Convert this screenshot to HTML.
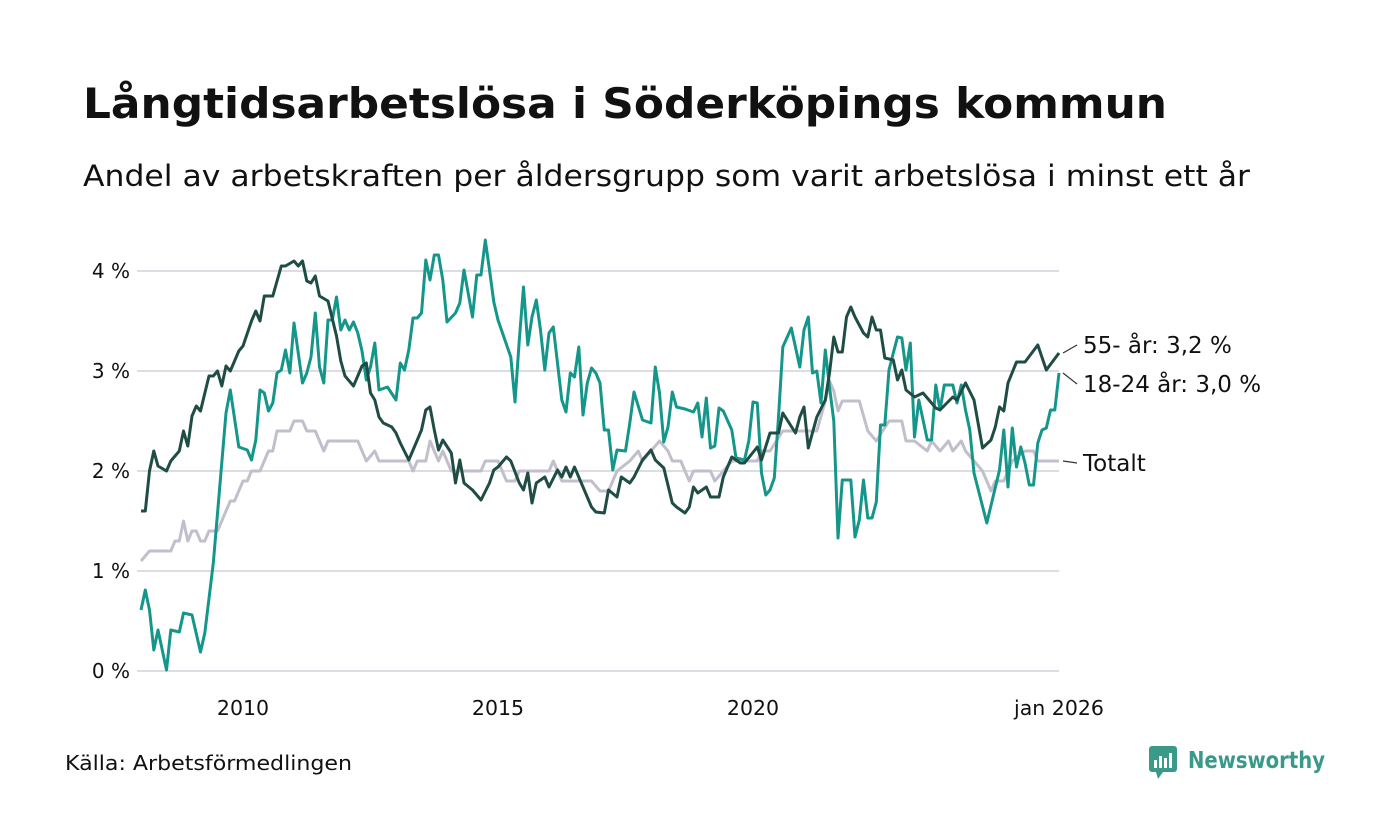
<!DOCTYPE html>
<html><head><meta charset="utf-8"><style>
html,body{margin:0;padding:0;background:#fff;width:1400px;height:840px;overflow:hidden}
body{font-family:"DejaVu Sans","Liberation Sans",sans-serif;color:#111}
</style></head><body>
<svg id="chart" width="1400" height="840" viewBox="0 0 1400 840" xmlns="http://www.w3.org/2000/svg">
<text x="83" y="118" font-size="42" font-weight="bold" fill="#111" textLength="1084" lengthAdjust="spacingAndGlyphs" font-family="DejaVu Sans, Liberation Sans, sans-serif">Långtidsarbetslösa i Söderköpings kommun</text>
<text x="83" y="186" font-size="29" fill="#111" textLength="1167" lengthAdjust="spacingAndGlyphs" font-family="DejaVu Sans, Liberation Sans, sans-serif">Andel av arbetskraften per åldersgrupp som varit arbetslösa i minst ett år</text>
<g id="grid"></g>
<g id="yticks"></g>
<g id="xticks"></g>
<g id="lines"></g>
<g id="labels"></g>
<text x="65" y="770" font-size="20" fill="#111" textLength="287" lengthAdjust="spacingAndGlyphs" font-family="DejaVu Sans, Liberation Sans, sans-serif">Källa: Arbetsförmedlingen</text>
<g>
<rect x="1149" y="746" width="28" height="26" rx="3" fill="#3a9a8a"/>
<polygon points="1156,772 1163,772 1158,779" fill="#3a9a8a"/>
<rect x="1154" y="760" width="3" height="8" fill="#fff"/><rect x="1159" y="756" width="3" height="12" fill="#fff"/><rect x="1164" y="758" width="3" height="10" fill="#fff"/><rect x="1169" y="753" width="3" height="15" fill="#fff"/>
<text x="1188" y="768" font-size="23" font-weight="bold" fill="#3a9a8a" textLength="137" lengthAdjust="spacingAndGlyphs" font-family="DejaVu Sans, Liberation Sans, sans-serif">Newsworthy</text>
</g>
</svg>
<script>
const yTicks=[0,1,2,3,4];
const yTickLabels=["0 %","1 %","2 %","3 %","4 %"];
const xTickMonths=[24,84,144,216];
const xTickLabels=["2010","2015","2020","jan 2026"];
const seniorMonths=[0,1,2,3,4,6,7,9,10,11,12,13,14,16,17,18,19,20,21,23,24,26,27,28,29,31,33,34,36,37,38,39,40,41,42,44,46,47,48,50,52,53,54,55,56,57,59,60,61,63,65,66,67,68,69,70,71,73,74,75,76,78,80,82,83,84,86,87,89,90,91,92,93,95,96,98,99,100,101,102,104,106,107,109,110,112,113,115,116,118,120,121,123,125,126,128,129,130,131,133,134,136,137,139,141,142,145,146,148,150,151,154,155,156,157,159,161,162,163,164,165,166,167,168,170,171,172,173,174,175,177,178,179,180,182,184,187,188,191,192,194,196,198,200,201,202,203,204,206,208,211,213,216];
const seniorValues=[1.6,1.6,2.0,2.2,2.05,2.0,2.1,2.2,2.4,2.25,2.55,2.65,2.6,2.95,2.95,3.0,2.85,3.05,3.0,3.2,3.25,3.5,3.6,3.5,3.75,3.75,4.05,4.05,4.1,4.05,4.1,3.9,3.88,3.95,3.75,3.7,3.35,3.1,2.95,2.85,3.05,3.08,2.78,2.71,2.54,2.48,2.44,2.38,2.28,2.11,2.31,2.41,2.61,2.64,2.41,2.21,2.31,2.18,1.88,2.11,1.88,1.81,1.71,1.88,2.01,2.04,2.14,2.1,1.88,1.81,1.98,1.68,1.88,1.94,1.84,2.01,1.94,2.04,1.94,2.04,1.84,1.64,1.59,1.58,1.81,1.74,1.94,1.88,1.94,2.11,2.21,2.11,2.03,1.68,1.64,1.58,1.64,1.84,1.78,1.84,1.74,1.74,1.94,2.14,2.08,2.08,2.24,2.11,2.38,2.38,2.58,2.38,2.54,2.64,2.23,2.54,2.71,2.98,3.34,3.19,3.19,3.54,3.64,3.54,3.38,3.34,3.54,3.41,3.41,3.13,3.11,2.91,3.01,2.81,2.74,2.78,2.63,2.61,2.74,2.71,2.88,2.71,2.23,2.31,2.44,2.64,2.6,2.88,3.09,3.09,3.26,3.01,3.18];
const youthMonths=[0,1,2,3,4,6,7,9,10,12,14,15,17,20,21,23,25,26,27,28,29,30,31,32,33,34,35,36,38,39,40,41,42,43,44,45,46,47,48,49,50,51,52,53,54,55,56,58,60,61,62,63,64,65,66,67,68,69,70,71,72,74,75,76,78,79,80,81,82,83,84,87,88,89,90,91,92,93,94,95,96,97,99,100,101,102,103,104,105,106,107,108,109,110,111,112,114,115,116,118,120,121,122,123,124,125,126,128,130,131,132,133,134,135,136,137,139,140,142,143,144,145,146,147,148,149,150,151,153,155,156,157,158,159,160,161,162,163,164,165,167,168,169,170,171,172,173,174,175,176,177,178,179,180,181,182,183,185,186,187,188,189,191,192,193,194,195,196,199,202,203,204,205,206,207,208,209,210,211,212,213,214,215,216];
const youthValues=[0.61,0.81,0.61,0.21,0.41,0.01,0.41,0.39,0.58,0.56,0.19,0.38,1.08,2.58,2.81,2.24,2.21,2.11,2.31,2.81,2.78,2.6,2.68,2.98,3.01,3.21,2.98,3.48,2.88,2.98,3.14,3.58,3.04,2.88,3.51,3.51,3.74,3.41,3.51,3.41,3.49,3.38,3.2,2.91,3.04,3.28,2.81,2.84,2.71,3.08,3.01,3.21,3.53,3.53,3.58,4.11,3.91,4.16,4.16,3.91,3.49,3.58,3.68,4.01,3.54,3.96,3.96,4.31,4.01,3.69,3.51,3.14,2.69,3.31,3.84,3.26,3.54,3.71,3.41,3.01,3.38,3.44,2.71,2.59,2.98,2.94,3.24,2.56,2.88,3.03,2.98,2.88,2.41,2.41,2.01,2.21,2.2,2.48,2.79,2.51,2.48,3.04,2.78,2.29,2.44,2.79,2.64,2.62,2.59,2.68,2.34,2.73,2.23,2.25,2.63,2.6,2.41,2.13,2.11,2.3,2.69,2.68,1.98,1.76,1.81,1.93,2.54,3.24,3.43,3.04,3.41,3.54,2.98,3.0,2.68,3.21,2.84,2.5,1.33,1.91,1.91,1.34,1.51,1.91,1.53,1.53,1.69,2.46,2.46,3.01,3.18,3.34,3.33,3.01,3.28,2.34,2.71,2.31,2.31,2.86,2.61,2.86,2.86,2.68,2.86,2.61,2.41,1.98,1.48,2.01,2.41,1.84,2.43,2.04,2.24,2.08,1.86,1.86,2.28,2.41,2.43,2.61,2.61,2.98];
const totalMonths=[0,2,7,8,9,10,11,12,13,14,15,16,18,20,21,22,24,25,26,28,30,31,32,35,36,38,39,41,43,44,51,53,55,56,63,64,65,67,68,70,71,73,80,81,84,86,88,89,96,97,99,106,108,110,112,115,117,118,122,124,125,127,128,129,130,134,135,137,139,145,146,148,151,159,161,162,163,164,165,169,171,173,176,179,180,182,185,186,188,190,191,193,194,196,198,200,201,203,205,208,210,211,216];
const totalValues=[1.1,1.2,1.2,1.3,1.3,1.5,1.3,1.4,1.4,1.3,1.3,1.4,1.4,1.6,1.7,1.7,1.9,1.9,2.0,2.0,2.2,2.2,2.4,2.4,2.5,2.5,2.4,2.4,2.2,2.3,2.3,2.1,2.2,2.1,2.1,2.0,2.1,2.1,2.3,2.1,2.2,2.0,2.0,2.1,2.1,1.9,1.9,2.0,2.0,2.1,1.9,1.9,1.8,1.8,2.0,2.1,2.2,2.1,2.3,2.2,2.1,2.1,2.0,1.9,2.0,2.0,1.9,2.0,2.1,2.1,2.2,2.2,2.4,2.4,2.7,2.9,2.8,2.6,2.7,2.7,2.4,2.3,2.5,2.5,2.3,2.3,2.2,2.3,2.2,2.3,2.2,2.3,2.2,2.1,2.0,1.8,1.9,1.9,2.1,2.2,2.2,2.1,2.1];
const seriesNames=["55- år: 3,2 %","18-24 år: 3,0 %","Totalt"];

const NS="http://www.w3.org/2000/svg";
const X0=141,X1=1059,M1=216,Y0=671,PX=100;
const xs=m=>X0+(X1-X0)*m/M1;
const ys=v=>Y0-v*PX;
function mk(tag,attrs,parent){const e=document.createElementNS(NS,tag);for(const k in attrs)e.setAttribute(k,attrs[k]);parent.appendChild(e);return e;}
const grid=document.getElementById('grid'),yt=document.getElementById('yticks'),xt=document.getElementById('xticks'),lines=document.getElementById('lines'),labels=document.getElementById('labels');
const F="DejaVu Sans, Liberation Sans, sans-serif";
yTicks.forEach((v,i)=>{
  const l=mk('line',{x1:137,x2:1059,y1:ys(v),y2:ys(v),stroke:'#dddce2','stroke-width':2},grid);
  
  
  const t=mk('text',{x:130,y:ys(v)+7,'text-anchor':'end','font-size':20,fill:'#111','font-family':F},yt);
  t.textContent=yTickLabels[i];
  
  
});
xTickMonths.forEach((m,i)=>{
  const t=mk('text',{x:xs(m),y:715,'text-anchor':'middle','font-size':20.5,fill:'#111','font-family':F},xt);
  t.textContent=xTickLabels[i];
  
  
});
function path(ms,vs){return ms.map((m,i)=>(i?'L':'M')+xs(m).toFixed(1)+','+ys(vs[i]).toFixed(1)).join('');}
const pt=mk('path',{d:path(totalMonths,totalValues),fill:'none',stroke:'#c2bfcc','stroke-width':3,'stroke-linejoin':'round'},lines);


const py=mk('path',{d:path(youthMonths,youthValues),fill:'none',stroke:'#15968a','stroke-width':3,'stroke-linejoin':'round'},lines);


const ps=mk('path',{d:path(seniorMonths,seniorValues),fill:'none',stroke:'#1f4d45','stroke-width':3,'stroke-linejoin':'round'},lines);


const lastVals=[seniorValues[seniorValues.length-1],youthValues[youthValues.length-1],totalValues[totalValues.length-1]];
const labelY=[353,392,471];
lastVals.forEach((v,i)=>{
  const l=mk('line',{x1:1063,y1:ys(v),x2:1077,y2:labelY[i]-8,stroke:'#333','stroke-width':1.2},labels);
  
  
  const t=mk('text',{x:1083,y:labelY[i],'font-size':23,fill:'#111','font-family':F},labels);
  t.textContent=seriesNames[i];
  
  
});
</script>
</body></html>
